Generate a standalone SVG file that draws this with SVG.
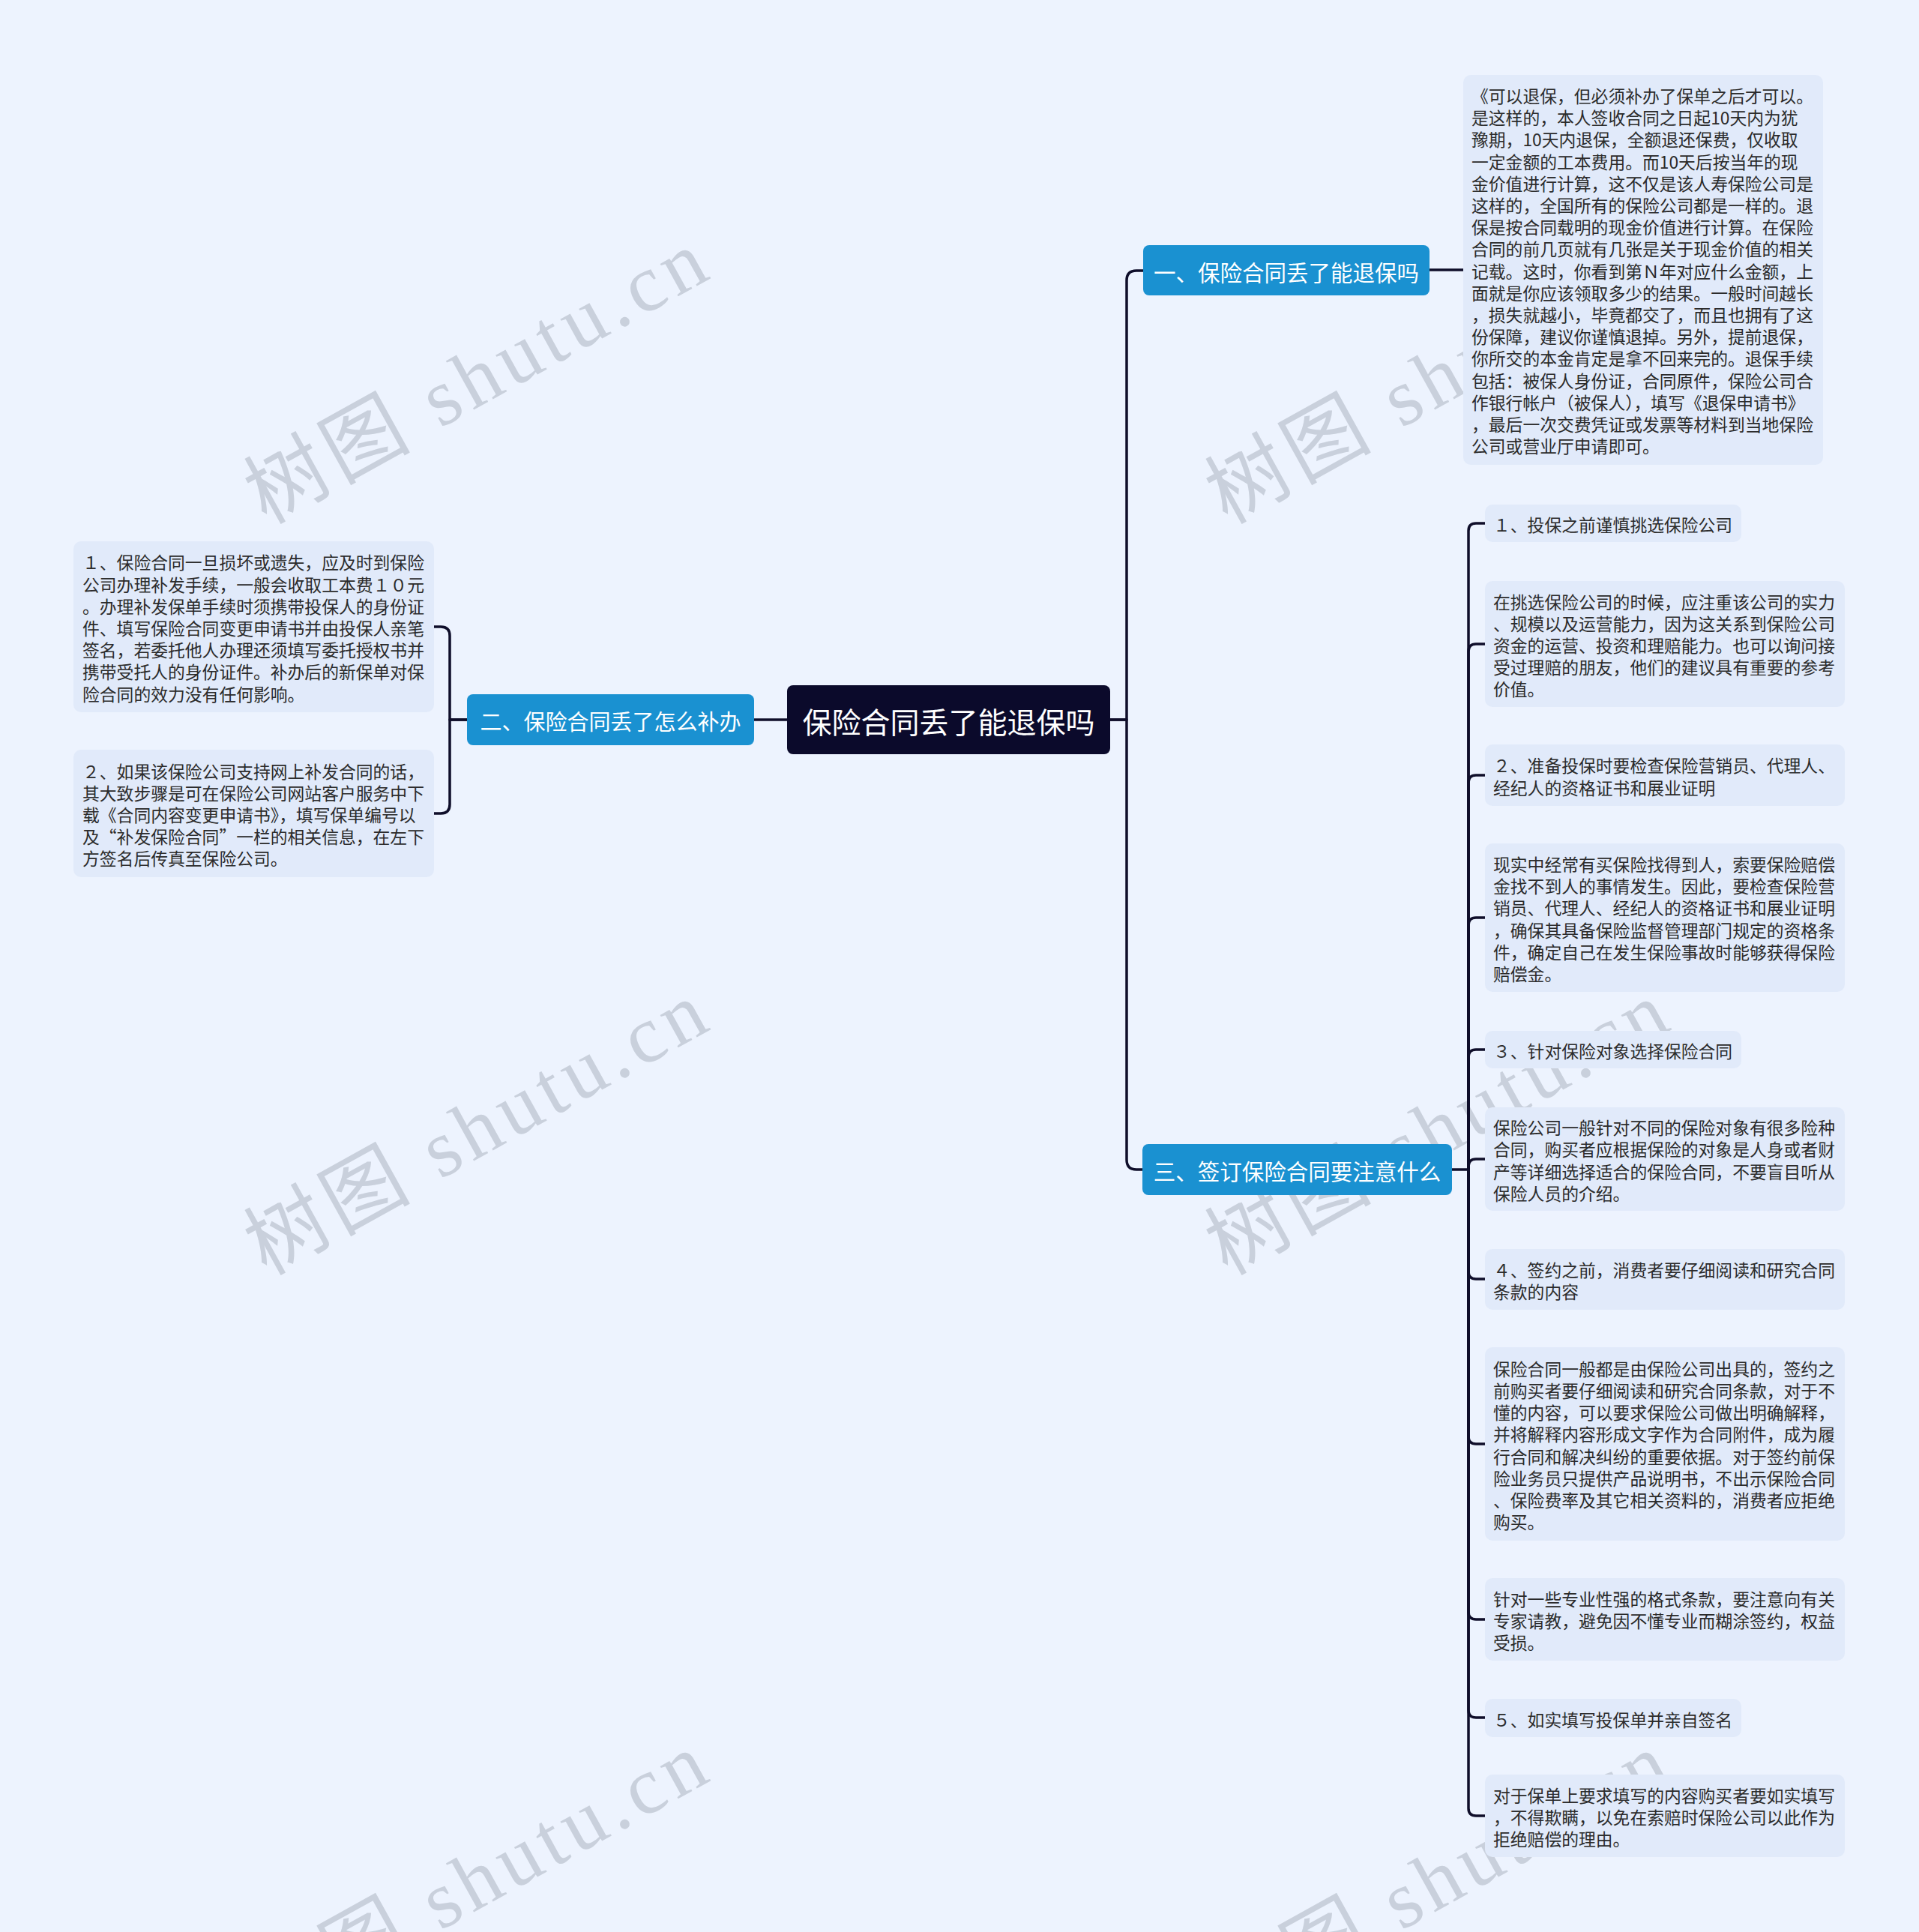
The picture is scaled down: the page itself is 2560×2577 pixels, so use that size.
<svg xmlns="http://www.w3.org/2000/svg" width="2560" height="2577" viewBox="0 0 2560 2577">
<style>
.bg{fill:#edf3fe}
.wm{font-family:"Liberation Serif","Noto Sans CJK SC",serif;font-size:108px;fill:#c9d0dc}
.leaf{fill:#e1eafa}
.lt{font-family:"Noto Sans CJK SC","Noto Sans CJK JP",sans-serif;font-size:22.8px;fill:#2b2b2b;dominant-baseline:central}
.br{fill:#1a91d1}
.bt{font-family:"Noto Sans CJK SC","Noto Sans CJK JP",sans-serif;font-size:29.5px;fill:#ffffff;text-anchor:middle;dominant-baseline:central}
.root{fill:#0b0a2b}
.rt{font-family:"Noto Sans CJK SC","Noto Sans CJK JP",sans-serif;font-size:39px;fill:#ffffff;text-anchor:middle;dominant-baseline:central}
.cn{fill:none;stroke:#0f0e2a;stroke-width:3.5;stroke-linecap:round;stroke-linejoin:round}
</style>
<rect class="bg" x="0" y="0" width="2560" height="2577"/>
<g id="watermarks">
<text class="wm" transform="translate(355,700) rotate(-29)" textLength="680">树图 shutu.cn</text>
<text class="wm" transform="translate(1637,700) rotate(-29)" textLength="680">树图 shutu.cn</text>
<text class="wm" transform="translate(355,1702) rotate(-29)" textLength="680">树图 shutu.cn</text>
<text class="wm" transform="translate(1637,1702) rotate(-29)" textLength="680">树图 shutu.cn</text>
<text class="wm" transform="translate(355,2704) rotate(-29)" textLength="680">树图 shutu.cn</text>
<text class="wm" transform="translate(1637,2704) rotate(-29)" textLength="680">树图 shutu.cn</text>
</g>
<g id="connectors">
<path class="cn" d="M1050 960 H1006"/>
<path class="cn" d="M623 960 H600 V848 Q600 836 588 836 H579"/>
<path class="cn" d="M623 960 H600 V1073 Q600 1085 588 1085 H579"/>
<path class="cn" d="M1481 960 H1503 V374 Q1503 361 1516 361 H1525"/>
<path class="cn" d="M1481 960 H1503 V1547 Q1503 1560 1516 1560 H1524"/>
<path class="cn" d="M1907 360 H1952"/>
<path class="cn" d="M1937 1560 H1959 V708 Q1959 698 1969 698 H1981"/>
<path class="cn" d="M1959 1560 V869 Q1959 859 1969 859 H1981"/>
<path class="cn" d="M1959 1560 V1044 Q1959 1034 1969 1034 H1981"/>
<path class="cn" d="M1959 1560 V1234 Q1959 1224 1969 1224 H1981"/>
<path class="cn" d="M1959 1560 V1410 Q1959 1400 1969 1400 H1981"/>
<path class="cn" d="M1959 1560 V1556 Q1959 1546 1969 1546 H1981"/>
<path class="cn" d="M1959 1560 V1696 Q1959 1706 1969 1706 H1981"/>
<path class="cn" d="M1959 1560 V1916 Q1959 1926 1969 1926 H1981"/>
<path class="cn" d="M1959 1560 V2150 Q1959 2160 1969 2160 H1981"/>
<path class="cn" d="M1959 1560 V2281 Q1959 2291 1969 2291 H1981"/>
<path class="cn" d="M1959 1560 V2412 Q1959 2422 1969 2422 H1981"/>
</g>
<g id="root">
<rect class="root" x="1050" y="914" width="431" height="92" rx="8"/>
<text class="rt" x="1265.5" y="961">保险合同丢了能退保吗</text>
</g>
<g id="b2">
<rect class="br" x="623" y="926" width="383" height="68" rx="8"/>
<text class="bt" x="814.5" y="961" style="font-size:29px">二、保险合同丢了怎么补办</text>
</g>
<g id="b1">
<rect class="br" x="1525" y="327" width="382" height="67" rx="8"/>
<text class="bt" x="1716" y="362">一、保险合同丢了能退保吗</text>
</g>
<g id="b3">
<rect class="br" x="1524" y="1526" width="413" height="68" rx="8"/>
<text class="bt" x="1730.5" y="1561">三、签订保险合同要注意什么</text>
</g>
<g id="d1">
<rect class="leaf" x="1952" y="100" width="480" height="520" rx="10"/>
<text class="lt">
<tspan x="1963" y="127">《可以退保，但必须补办了保单之后才可以。</tspan>
<tspan x="1963" y="156.2">是这样的，本人签收合同之日起10天内为犹</tspan>
<tspan x="1963" y="185.4">豫期，10天内退保，全额退还保费，仅收取</tspan>
<tspan x="1963" y="214.6">一定金额的工本费用。而10天后按当年的现</tspan>
<tspan x="1963" y="243.8">金价值进行计算，这不仅是该人寿保险公司是</tspan>
<tspan x="1963" y="273">这样的，全国所有的保险公司都是一样的。退</tspan>
<tspan x="1963" y="302.2">保是按合同载明的现金价值进行计算。在保险</tspan>
<tspan x="1963" y="331.4">合同的前几页就有几张是关于现金价值的相关</tspan>
<tspan x="1963" y="360.6">记载。这时，你看到第Ｎ年对应什么金额，上</tspan>
<tspan x="1963" y="389.8">面就是你应该领取多少的结果。一般时间越长</tspan>
<tspan x="1963" y="419">，损失就越小，毕竟都交了，而且也拥有了这</tspan>
<tspan x="1963" y="448.2">份保障，建议你谨慎退掉。另外，提前退保，</tspan>
<tspan x="1963" y="477.4">你所交的本金肯定是拿不回来完的。退保手续</tspan>
<tspan x="1963" y="506.6">包括：被保人身份证，合同原件，保险公司合</tspan>
<tspan x="1963" y="535.8">作银行帐户（被保人），填写《退保申请书》</tspan>
<tspan x="1963" y="565">，最后一次交费凭证或发票等材料到当地保险</tspan>
<tspan x="1963" y="594.2">公司或营业厅申请即可。</tspan>
</text>
</g>
<g id="l1">
<rect class="leaf" x="98" y="722" width="481" height="228" rx="10"/>
<text class="lt">
<tspan x="110" y="749.4">１、保险合同一旦损坏或遗失，应及时到保险</tspan>
<tspan x="110" y="778.6">公司办理补发手续，一般会收取工本费１０元</tspan>
<tspan x="110" y="807.8">。办理补发保单手续时须携带投保人的身份证</tspan>
<tspan x="110" y="837">件、填写保险合同变更申请书并由投保人亲笔</tspan>
<tspan x="110" y="866.2">签名，若委托他人办理还须填写委托授权书并</tspan>
<tspan x="110" y="895.4">携带受托人的身份证件。补办后的新保单对保</tspan>
<tspan x="110" y="924.6">险合同的效力没有任何影响。</tspan>
</text>
</g>
<g id="l2">
<rect class="leaf" x="98" y="1000" width="481" height="170" rx="10"/>
<text class="lt">
<tspan x="110" y="1027.6">２、如果该保险公司支持网上补发合同的话，</tspan>
<tspan x="110" y="1056.8">其大致步骤是可在保险公司网站客户服务中下</tspan>
<tspan x="110" y="1086">载《合同内容变更申请书》，填写保单编号以</tspan>
<tspan x="110" y="1115.2">及“补发保险合同”一栏的相关信息，在左下</tspan>
<tspan x="110" y="1144.4">方签名后传真至保险公司。</tspan>
</text>
</g>
<g id="r1">
<rect class="leaf" x="1981" y="673" width="342" height="50" rx="10"/>
<text class="lt"><tspan x="1992" y="699">１、投保之前谨慎挑选保险公司</tspan></text>
</g>
<g id="r2">
<rect class="leaf" x="1981" y="775" width="480" height="168" rx="10"/>
<text class="lt">
<tspan x="1992" y="801.6">在挑选保险公司的时候，应注重该公司的实力</tspan>
<tspan x="1992" y="830.8">、规模以及运营能力，因为这关系到保险公司</tspan>
<tspan x="1992" y="860">资金的运营、投资和理赔能力。也可以询问接</tspan>
<tspan x="1992" y="889.2">受过理赔的朋友，他们的建议具有重要的参考</tspan>
<tspan x="1992" y="918.4">价值。</tspan>
</text>
</g>
<g id="r3">
<rect class="leaf" x="1981" y="993" width="480" height="82" rx="10"/>
<text class="lt">
<tspan x="1992" y="1020.4">２、准备投保时要检查保险营销员、代理人、</tspan>
<tspan x="1992" y="1049.6">经纪人的资格证书和展业证明</tspan>
</text>
</g>
<g id="r4">
<rect class="leaf" x="1981" y="1125" width="480" height="198" rx="10"/>
<text class="lt">
<tspan x="1992" y="1152">现实中经常有买保险找得到人，索要保险赔偿</tspan>
<tspan x="1992" y="1181.2">金找不到人的事情发生。因此，要检查保险营</tspan>
<tspan x="1992" y="1210.4">销员、代理人、经纪人的资格证书和展业证明</tspan>
<tspan x="1992" y="1239.6">，确保其具备保险监督管理部门规定的资格条</tspan>
<tspan x="1992" y="1268.8">件，确定自己在发生保险事故时能够获得保险</tspan>
<tspan x="1992" y="1298">赔偿金。</tspan>
</text>
</g>
<g id="r5">
<rect class="leaf" x="1981" y="1375" width="342" height="50" rx="10"/>
<text class="lt"><tspan x="1992" y="1401">３、针对保险对象选择保险合同</tspan></text>
</g>
<g id="r6">
<rect class="leaf" x="1981" y="1477" width="480" height="138" rx="10"/>
<text class="lt">
<tspan x="1992" y="1503.2">保险公司一般针对不同的保险对象有很多险种</tspan>
<tspan x="1992" y="1532.4">合同，购买者应根据保险的对象是人身或者财</tspan>
<tspan x="1992" y="1561.6">产等详细选择适合的保险合同，不要盲目听从</tspan>
<tspan x="1992" y="1590.8">保险人员的介绍。</tspan>
</text>
</g>
<g id="r7">
<rect class="leaf" x="1981" y="1666" width="480" height="81" rx="10"/>
<text class="lt">
<tspan x="1992" y="1692.9">４、签约之前，消费者要仔细阅读和研究合同</tspan>
<tspan x="1992" y="1722.1">条款的内容</tspan>
</text>
</g>
<g id="r8">
<rect class="leaf" x="1981" y="1797" width="480" height="258" rx="10"/>
<text class="lt">
<tspan x="1992" y="1824.8">保险合同一般都是由保险公司出具的，签约之</tspan>
<tspan x="1992" y="1854">前购买者要仔细阅读和研究合同条款，对于不</tspan>
<tspan x="1992" y="1883.2">懂的内容，可以要求保险公司做出明确解释，</tspan>
<tspan x="1992" y="1912.4">并将解释内容形成文字作为合同附件，成为履</tspan>
<tspan x="1992" y="1941.6">行合同和解决纠纷的重要依据。对于签约前保</tspan>
<tspan x="1992" y="1970.8">险业务员只提供产品说明书，不出示保险合同</tspan>
<tspan x="1992" y="2000">、保险费率及其它相关资料的，消费者应拒绝</tspan>
<tspan x="1992" y="2029.2">购买。</tspan>
</text>
</g>
<g id="r9">
<rect class="leaf" x="1981" y="2105" width="480" height="110" rx="10"/>
<text class="lt">
<tspan x="1992" y="2131.8">针对一些专业性强的格式条款，要注意向有关</tspan>
<tspan x="1992" y="2161">专家请教，避免因不懂专业而糊涂签约，权益</tspan>
<tspan x="1992" y="2190.2">受损。</tspan>
</text>
</g>
<g id="r10">
<rect class="leaf" x="1981" y="2266" width="342" height="51" rx="10"/>
<text class="lt"><tspan x="1992" y="2292.5">５、如实填写投保单并亲自签名</tspan></text>
</g>
<g id="r11">
<rect class="leaf" x="1981" y="2367" width="480" height="110" rx="10"/>
<text class="lt">
<tspan x="1992" y="2393.8">对于保单上要求填写的内容购买者要如实填写</tspan>
<tspan x="1992" y="2423">，不得欺瞒，以免在索赔时保险公司以此作为</tspan>
<tspan x="1992" y="2452.2">拒绝赔偿的理由。</tspan>
</text>
</g>
</svg>
